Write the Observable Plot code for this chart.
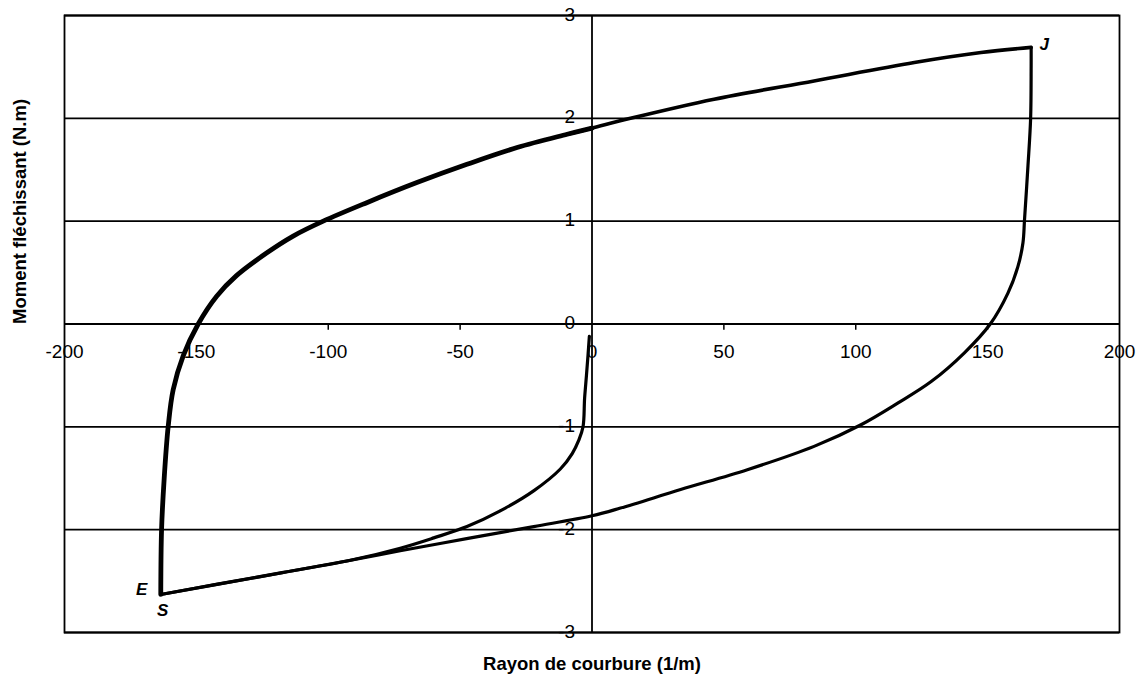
<!DOCTYPE html>
<html>
<head>
<meta charset="utf-8">
<script src="https://cdn.jsdelivr.net/npm/d3@7"></script>
<script src="https://cdn.jsdelivr.net/npm/@observablehq/plot@0.6"></script>
<style>
  html, body { margin: 0; padding: 0; background: #fff; }
  #chart svg { display: block; }
</style>
</head>
<body>
<div id="chart"></div>
<script>
// Tick values
const xTicks = [-200, -150, -100, -50, 0, 50, 100, 150, 200];
const yTicks = [-3, -2, -1, 0, 1, 2, 3];

// Axis titles
const xTitle = "Rayon de courbure (1/m)";
const yTitle = "Moment fléchissant (N.m)";

// Virgin curve: from origin down to E/S
const virginX = [-1.0, -1.5, -2.1, -2.8, -3.4, -5.0, -7.5, -12, -22, -35, -47.4, -60, -72.7, -92, -117, -142, -163.5];
const virginY = [-0.12, -0.3, -0.5, -0.72, -1.0, -1.13, -1.26, -1.41, -1.62, -1.82, -1.97, -2.08, -2.18, -2.30, -2.415, -2.53, -2.63];

// Upper branch: from E up to J (left part, thicker trace)
const upperLeftX = [-163.5, -163.2, -162.2, -160.7, -158.8, -155, -149.3, -142.3, -134.8, -123.4, -113.3, -101.9, -85.4, -66.4, -47.4, -28.4, -9.4, 0];
const upperLeftY = [-2.63, -2.0, -1.5, -1.0, -0.64, -0.31, 0.0, 0.27, 0.47, 0.69, 0.855, 1.0, 1.18, 1.375, 1.553, 1.716, 1.845, 1.905];
// Upper branch: right part up to J
const upperRightX = [-9.4, 0, 14.6, 46.3, 84.2, 122.2, 147.5, 166.5];
const upperRightY = [1.845, 1.905, 2.0, 2.186, 2.364, 2.543, 2.64, 2.69];

// Lower branch: from J down to S
const lowerX = [166.5, 166.5, 166.3, 165.3, 164, 163.4, 161.5, 157.7, 151, 141.2, 128.6, 115.9, 102, 84.2, 58.9, 33.6, 10.8, 0, -22.1, -47, -72.7, -92, -129.7, -163.5];
const lowerY = [2.69, 2.5, 2.0, 1.54, 1.02, 0.79, 0.56, 0.30, 0.0, -0.28, -0.56, -0.77, -0.98, -1.19, -1.417, -1.61, -1.79, -1.865, -1.97, -2.085, -2.205, -2.30, -2.475, -2.63];

// Point labels
const pointNames = ["E", "S", "J"];
const pointX = [-163.5, -163.5, 166.5];
const pointY = [-2.63, -2.63, 2.69];

const toPts = (xs, ys) => xs.map((x, i) => ({x, y: ys[i]}));
const virgin = toPts(virginX, virginY);
const upperLeft = toPts(upperLeftX, upperLeftY);
const upperRight = toPts(upperRightX, upperRightY);
const lower = toPts(lowerX, lowerY);
const pts = pointNames.map((n, i) => ({name: n, x: pointX[i], y: pointY[i]}));
const labelOffsets = {E: [-19, -5], S: [2, 16], J: [13, -3]};

const fmt = d => (d < 0 ? "-" : "") + Math.abs(d);
const ptLabel = (name) => Plot.text(pts.filter(d => d.name === name), {
  x: "x", y: "y", text: "name", dx: labelOffsets[name][0], dy: labelOffsets[name][1],
  fontSize: 17, fontWeight: "bold", fontStyle: "italic", fill: "#000"
});

const chart = Plot.plot({
  width: 1142,
  height: 680,
  marginLeft: 64,
  marginRight: 23,
  marginTop: 15,
  marginBottom: 48,
  style: {fontFamily: "'Liberation Sans', Arial, sans-serif", background: "#fff", color: "#000"},
  x: {domain: [-200, 200], axis: null},
  y: {domain: [-3, 3], axis: null},
  marks: [
    // y tick labels (drawn first; gridlines pass through them)
    Plot.text(yTicks, {x: 0, y: d => d, text: fmt, textAnchor: "end", dx: -17, dy: -1, fontSize: 19, fill: "#000"}),
    // x tick labels
    Plot.text(xTicks, {x: d => d, y: 0, text: fmt, dy: 28, fontSize: 19, fill: "#000"}),
    // horizontal gridlines
    Plot.ruleY(yTicks, {stroke: "#000", strokeWidth: 1.8}),
    // vertical axis through zero
    Plot.ruleX([0], {stroke: "#000", strokeWidth: 1.8}),
    // x ticks below the axis
    Plot.ruleX(xTicks.filter(d => d !== 0 && Math.abs(d) !== 200), {x: d => d, y1: 0, y2: -0.06, stroke: "#000", strokeWidth: 1.5}),
    Plot.frame({stroke: "#000", strokeWidth: 1.8}),
    // curves
    Plot.line(virgin, {x: "x", y: "y", stroke: "#000", strokeWidth: 3.2, curve: "catmull-rom"}),
    Plot.line(lower, {x: "x", y: "y", stroke: "#000", strokeWidth: 3.2, curve: "catmull-rom"}),
    Plot.line(upperRight, {x: "x", y: "y", stroke: "#000", strokeWidth: 3.6, curve: "catmull-rom"}),
    Plot.line(upperLeft, {x: "x", y: "y", stroke: "#000", strokeWidth: 4.8, curve: "catmull-rom"}),
    // point labels
    ptLabel("E"),
    ptLabel("S"),
    ptLabel("J"),
    // axis titles
    Plot.text([xTitle], {frameAnchor: "bottom", text: d => d, dy: 37, fontSize: 18.5, fontWeight: "bold", fill: "#000"}),
    Plot.text([yTitle], {frameAnchor: "left", text: d => d, dx: -44, rotate: -90, fontSize: 18.5, fontWeight: "bold", fill: "#000"})
  ]
});
document.getElementById("chart").appendChild(chart);
</script>
</body>
</html>
